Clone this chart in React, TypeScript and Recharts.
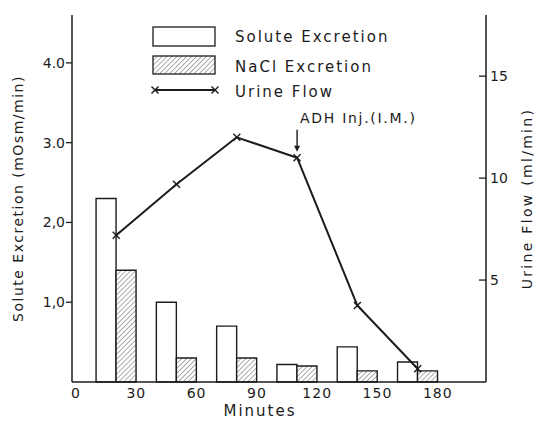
import React from 'react';
import { ComposedChart, Bar, Line, XAxis, YAxis, ReferenceDot } from 'recharts';

// values
const minutes = [20, 50, 80, 110, 140, 170];
const soluteExcretion = [2.3, 1.0, 0.7, 0.22, 0.44, 0.25];
const naclExcretion = [1.4, 0.3, 0.3, 0.2, 0.14, 0.14];
const urineFlow = [7.2, 9.7, 12.0, 11.0, 3.75, 0.65];

const minuteTicks = [0, 30, 60, 90, 120, 150, 180];
const soluteTicks = [1, 2, 3, 4];
const soluteTickLabels = ['1,0', '2,0', '3.0', '4.0'];
const flowTicks = [5, 10, 15];
const flowTickLabels = ['5', '10', '15'];

const adhIndex = 3;

const data = minutes.map((m, i) => ({
  minute: m,
  solute: soluteExcretion[i],
  nacl: naclExcretion[i],
  flow: urineFlow[i],
}));

const ink = '#1c1c1c';
const font = '"DejaVu Sans", sans-serif';

const XMark = ({ cx, cy, s = 3.5 }: { cx: number; cy: number; s?: number }) => (
  <g stroke={ink} strokeWidth={1.4}>
    <line x1={cx - s} y1={cy - s} x2={cx + s} y2={cy + s} />
    <line x1={cx - s} y1={cy + s} x2={cx + s} y2={cy - s} />
  </g>
);

const SoluteTick = (props: any) => {
  const { x, y, payload } = props;
  const label = soluteTickLabels[soluteTicks.indexOf(payload.value)];
  return (
    <g>
      <line x1={x - 6} x2={x} y1={y} y2={y} stroke={ink} strokeWidth={1.3} />
      <text x={x - 7} y={y} dy="0.35em" textAnchor="end" fontFamily={font} fontSize={14} fill={ink}>
        {label}
      </text>
    </g>
  );
};

const FlowTick = (props: any) => {
  const { x, y, payload } = props;
  const label = flowTickLabels[flowTicks.indexOf(payload.value)];
  return (
    <g>
      <line x1={x - 7} x2={x} y1={y} y2={y} stroke={ink} strokeWidth={1.3} />
      <text x={x + 4} y={y} dy="0.35em" textAnchor="start" fontFamily={font} fontSize={14} fill={ink}>
        {label}
      </text>
    </g>
  );
};

const AdhLabel = (props: any) => {
  const vb = props.viewBox;
  const cx = vb.x + vb.width / 2;
  const cy = vb.y + vb.height / 2;
  return (
    <g>
      <line x1={cx} x2={cx} y1={cy - 28} y2={cy - 11} stroke={ink} strokeWidth={1.4} />
      <polygon points={`${cx - 3},${cy - 12} ${cx + 3},${cy - 12} ${cx},${cy - 6}`} fill={ink} />
      <text x={cx + 3} y={cy - 35} fontFamily={font} fontSize={14} letterSpacing={1.7} fill={ink}>
        ADH Inj.(I.M.)
      </text>
    </g>
  );
};

export default function App() {
  return (
    <div style={{ position: 'absolute', left: 0, top: 0, width: 536, height: 424, background: '#fff' }}>
      <ComposedChart
        width={536}
        height={424}
        data={data}
        margin={{ top: 15, right: 0, bottom: 0, left: 0 }}
        barGap={0}
      >
        <defs>
          <pattern id="hatch" patternUnits="userSpaceOnUse" width={3.5} height={3.5} patternTransform="rotate(45)">
            <rect width={3.5} height={3.5} fill="#fff" />
            <line x1={0} y1={0} x2={0} y2={3.5} stroke="#444" strokeWidth={0.9} />
          </pattern>
        </defs>
        <XAxis
          dataKey="minute"
          type="number"
          domain={[-2, 204]}
          ticks={minuteTicks}
          allowDataOverflow
          height={42}
          tickLine={false}
          tickSize={0}
          tickMargin={6}
          axisLine={{ stroke: ink, strokeWidth: 1.5 }}
          tick={{ fill: ink, fontFamily: font, fontSize: 14, letterSpacing: 1 }}
          label={{
            value: 'Minutes',
            position: 'insideBottom',
            offset: 8,
            dx: -19,
            style: { fontFamily: font, fontSize: 15, letterSpacing: 2, fill: ink },
          }}
        />
        <YAxis
          yAxisId="solute"
          orientation="left"
          width={72}
          domain={[0, 4.6]}
          ticks={soluteTicks}
          tickLine={false}
          tickSize={0}
          tickMargin={0}
          tick={<SoluteTick />}
          axisLine={{ stroke: ink, strokeWidth: 1.5 }}
          label={{
            value: 'Solute Excretion (mOsm/min)',
            angle: -90,
            position: 'insideLeft',
            offset: 18,
            style: { textAnchor: 'middle', fontFamily: font, fontSize: 14, letterSpacing: 1.5, fill: ink },
          }}
        />
        <YAxis
          yAxisId="flow"
          orientation="right"
          width={50}
          domain={[0, 18]}
          ticks={flowTicks}
          tickLine={false}
          tickSize={0}
          tickMargin={0}
          tick={<FlowTick />}
          axisLine={{ stroke: ink, strokeWidth: 1.5 }}
          label={{
            value: 'Urine Flow (ml/min)',
            angle: -90,
            position: 'insideRight',
            offset: 9,
            style: { textAnchor: 'middle', fontFamily: font, fontSize: 14, letterSpacing: 2.3, fill: ink },
          }}
        />
        <Bar
          yAxisId="solute"
          dataKey="solute"
          barSize={20}
          fill="#fff"
          stroke={ink}
          strokeWidth={1.4}
          isAnimationActive={false}
        />
        <Bar
          yAxisId="solute"
          dataKey="nacl"
          barSize={20}
          fill="url(#hatch)"
          stroke={ink}
          strokeWidth={1.4}
          isAnimationActive={false}
        />
        <Line
          yAxisId="flow"
          dataKey="flow"
          type="linear"
          stroke={ink}
          strokeWidth={2}
          strokeLinejoin="round"
          dot={(p: any) => <XMark key={`d${p.index}`} cx={p.cx} cy={p.cy} />}
          activeDot={false}
          isAnimationActive={false}
        />
        <ReferenceDot
          yAxisId="flow"
          x={minutes[adhIndex]}
          y={urineFlow[adhIndex]}
          r={1}
          fill="none"
          stroke="none"
          label={<AdhLabel />}
        />
        <g fontFamily={font} fontSize={15} fill={ink} letterSpacing={2}>
          <rect x={153} y={27} width={62} height={19} fill="#fff" stroke={ink} strokeWidth={1.3} />
          <text x={235} y={42}>Solute Excretion</text>
          <rect x={153} y={56} width={62} height={18} fill="url(#hatch)" stroke={ink} strokeWidth={1.3} />
          <text x={235} y={72}>NaCl Excretion</text>
          <line x1={155} x2={215} y1={90} y2={90} stroke={ink} strokeWidth={1.8} />
          <XMark cx={155} cy={90} />
          <XMark cx={215} cy={90} />
          <text x={235} y={97}>Urine Flow</text>
        </g>
      </ComposedChart>
    </div>
  );
}
